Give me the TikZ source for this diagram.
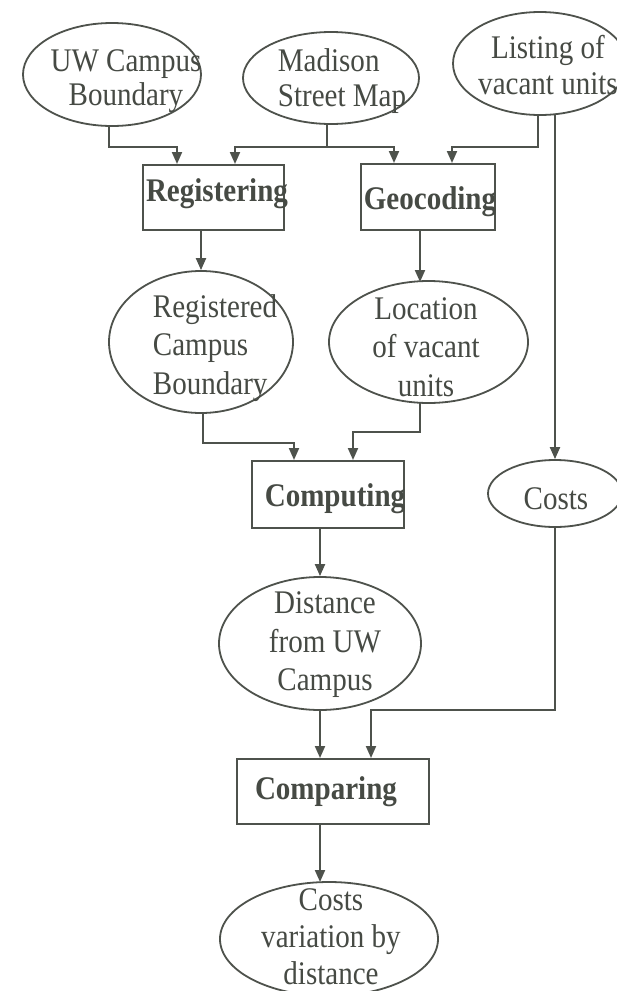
\documentclass[tikz,border=0pt]{standalone}
\usepackage{fontspec}
\setmainfont{Liberation Serif}[FakeStretch=0.88]
\usetikzlibrary{shapes.geometric,arrows.meta}
\definecolor{ink}{RGB}{78,82,76}
\definecolor{txtc}{RGB}{70,74,68}
\tikzset{
  oval/.style={draw=ink, line width=1.8pt, ellipse, inner sep=0pt},
  procbox/.style={draw=ink, line width=2pt, rectangle, inner sep=0pt, text=txtc,
    font=\fontsize{33}{36}\selectfont\bfseries},
  lbl/.style={text=txtc, inner sep=0pt, font=\fontsize{33}{36}\selectfont},
  arr/.style={draw=ink, line width=2pt, -{Triangle[length=12pt,width=10pt]}},
  ln/.style={draw=ink, line width=2pt}
}
\begin{document}
\begin{tikzpicture}[x=1pt,y=-1pt]
\useasboundingbox[fill=white] (0,0) rectangle (617,991);
% ellipses
\node[oval, minimum width=178pt, minimum height=103pt] (uw) at (112,74.5) {};
\node[lbl, align=center, font=\fontsize{33}{34}\selectfont] (uwt) at (126,81) {UW Campus\\Boundary};
\node[oval, minimum width=176pt, minimum height=92pt] (mad) at (331,78) {};
\node[lbl, align=left, font=\fontsize{33}{35}\selectfont] (madt) at (342,81) {Madison\\Street Map};
\node[oval, minimum width=174pt, minimum height=103pt] (lst) at (540,63.5) {};
\node[lbl, align=center, font=\fontsize{33}{36}\selectfont] (lstt) at (548,65) {Listing of\\vacant units};
% boxes
\node[procbox, minimum width=141pt, minimum height=65pt] (reg) at (213.5,197.5) {};
\node[lbl, font=\fontsize{33}{36}\selectfont\bfseries] (regt) at (217,194) {Registering};
\node[procbox, minimum width=134pt, minimum height=66pt] (geo) at (428,197) {};
\node[lbl, font=\fontsize{33}{36}\selectfont\bfseries] (geot) at (430,202) {Geocoding};
% middle ellipses
\node[oval, minimum width=184pt, minimum height=142pt] (reg2) at (201,342) {};
\node[lbl, align=left, font=\fontsize{33}{38.5}\selectfont] (reg2t) at (215,348) {Registered\\Campus\\Boundary};
\node[oval, minimum width=199pt, minimum height=122pt] (loc) at (428.5,342) {};
\node[lbl, align=center, font=\fontsize{33}{38.5}\selectfont] (loct) at (426,347) {Location\\of vacant\\units};
% computing & costs
\node[procbox, minimum width=152pt, minimum height=67pt] (comp) at (328,494.5) {};
\node[lbl, font=\fontsize{33}{36}\selectfont\bfseries] (compt) at (335,499) {Computing};
\node[oval, minimum width=134pt, minimum height=67pt] (costs) at (555,493.5) {};
\node[lbl] (costst) at (556,499) {Costs};
% distance
\node[oval, minimum width=202pt, minimum height=133pt] (dist) at (320,643.5) {};
\node[lbl, align=center, font=\fontsize{33}{38.5}\selectfont] (distt) at (325,645) {Distance\\from UW\\Campus};
% comparing
\node[procbox, minimum width=192pt, minimum height=65pt] (cmp) at (333,791.5) {};
\node[lbl, font=\fontsize{33}{36}\selectfont\bfseries] (cmpt) at (326,792) {Comparing};
% final
\node[oval, minimum width=218pt, minimum height=114pt] (fin) at (329,939) {};
\node[lbl, align=center, font=\fontsize{33}{37}\selectfont] (fint) at (331,937) {Costs\\variation by\\distance};
% connectors
\draw[arr] (109,0 |- uw.south) |- (177,147) -- (177,0 |- reg.north);
\draw[ln] (327,0 |- mad.south) -- (327,147) coordinate (mj);
\draw[arr] (mj) -| (235,0 |- reg.north);
\draw[arr] (mj) -| (394,0 |- geo.north);
\draw[arr] (538,0 |- lst.south) |- (452,147) -- (452,0 |- geo.north);
\draw[arr] (555,114) -- (costs.north);
\draw[arr] (reg2.north |- reg.south) -- (reg2.north);
\draw[arr] (420,0 |- geo.south) -- (420,282);
\draw[arr] (203,0 |- reg2.south) |- (294,443) -- (294,0 |- comp.north);
\draw[arr] (420,403) |- (353,432) -- (353,0 |- comp.north);
\draw[arr] (dist.north |- comp.south) -- (dist.north);
\draw[arr] (costs.south) |- (371,710) -- (371,0 |- cmp.north);
\draw[arr] (dist.south) -- (dist.south |- cmp.north);
\draw[arr] (320,0 |- cmp.south) -- (320,882);
\end{tikzpicture}
\end{document}
